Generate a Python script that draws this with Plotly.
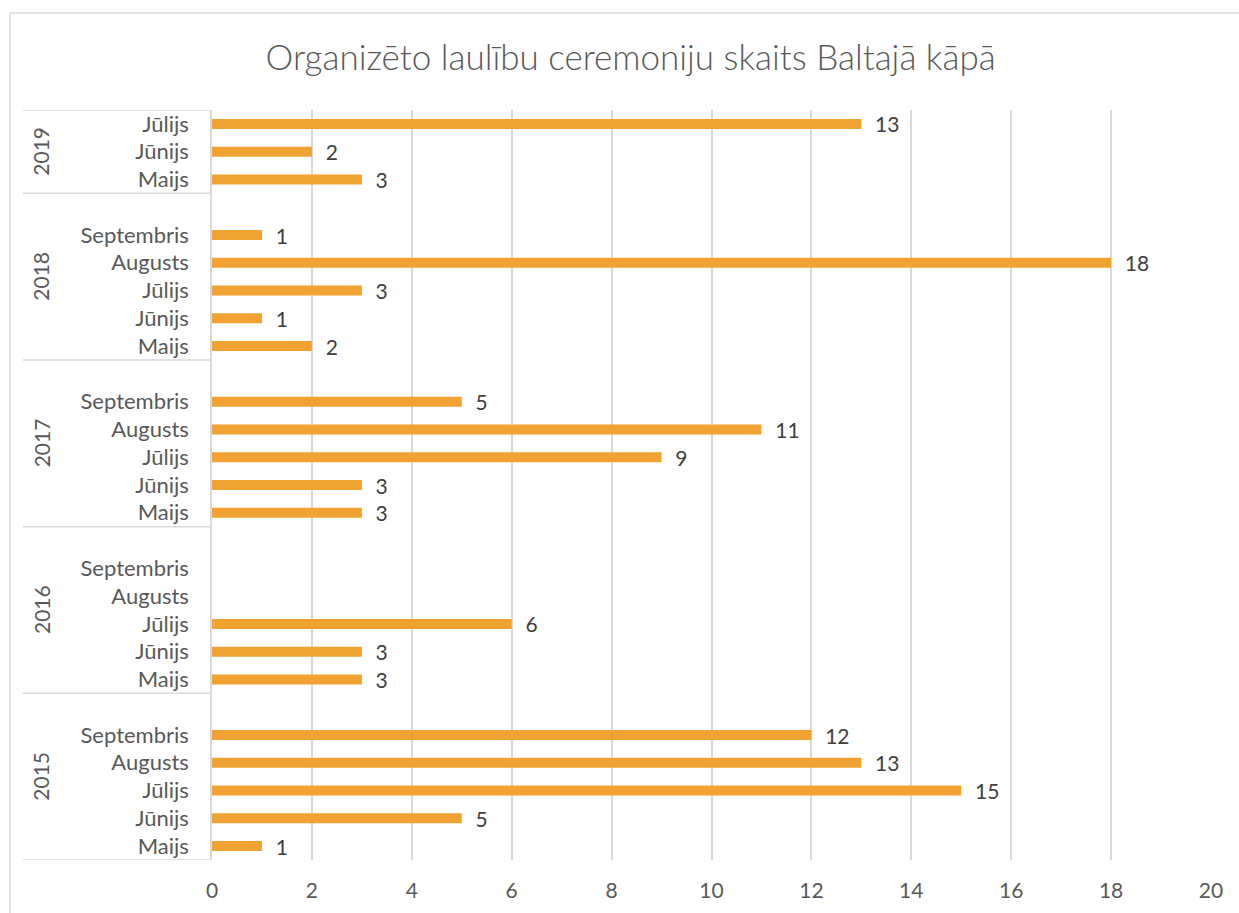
import plotly.graph_objects as go

# ---- data ----
title_text = "Organizēto laulību ceremoniju skaits Baltajā kāpā"
years = ["2015", "2016", "2017", "2018", "2019"]
months_2015 = ["Maijs", "Jūnijs", "Jūlijs", "Augusts", "Septembris", ""]
values_2015 = [1, 5, 15, 13, 12, None]
months_2016 = ["Maijs", "Jūnijs", "Jūlijs", "Augusts", "Septembris", ""]
values_2016 = [3, 3, 6, None, None, None]
months_2017 = ["Maijs", "Jūnijs", "Jūlijs", "Augusts", "Septembris", ""]
values_2017 = [3, 3, 9, 11, 5, None]
months_2018 = ["Maijs", "Jūnijs", "Jūlijs", "Augusts", "Septembris", ""]
values_2018 = [2, 1, 3, 18, 1, None]
months_2019 = ["Maijs", "Jūnijs", "Jūlijs"]
values_2019 = [3, 2, 13]
x_ticks = [0, 2, 4, 6, 8, 10, 12, 14, 16, 18, 20]

months_by_year = [months_2015, months_2016, months_2017, months_2018, months_2019]
values_by_year = [values_2015, values_2016, values_2017, values_2018, values_2019]

# ---- build categories ----
cat_ids, cat_text, vals, labels = [], [], [], []
group_bounds = []
for yr, ms, vs in zip(years, months_by_year, values_by_year):
    start = len(cat_ids)
    for i, (m, v) in enumerate(zip(ms, vs)):
        cat_ids.append(f"{yr}-{i}")
        cat_text.append(m)
        vals.append(v)
        labels.append("" if v is None else f"  {v}")
    group_bounds.append((yr, start, len(cat_ids) - 1))

FONT = "Lato"
GREY = "#595959"
LINE = "#D9D9D9"

fig = go.Figure(go.Bar(
    x=vals, y=cat_ids, orientation="h",
    marker=dict(color="#F0A232", line=dict(width=0)),
    width=0.36,
    text=labels, textposition="outside", cliponaxis=False, constraintext="none",
    textfont=dict(family=FONT, size=21, color="#404040"),
    hoverinfo="skip",
))

shapes = []
annotations = []
left_px = 23
plot_l, plot_w = 212, 999
x_left = (left_px - plot_l) / plot_w
boundaries = [-0.5] + [end + 0.5 for _, _, end in group_bounds]
for b in boundaries:
    shapes.append(dict(type="line", xref="paper", yref="y", x0=x_left, x1=0, y0=b, y1=b,
                       line=dict(color=LINE, width=1.5)))
for yr, s, e in group_bounds:
    annotations.append(dict(text=yr, xref="paper", yref="y", x=(41 - plot_l) / plot_w, y=(s + e) / 2,
                            xanchor="center", yanchor="middle",
                            textangle=-90, showarrow=False,
                            font=dict(family=FONT, size=21, color=GREY)))

# outer chart border (cropped in the reference)
top_paper = (860 - 13) / 750
left_paper = (10 - plot_l) / plot_w
shapes.append(dict(type="line", xref="paper", yref="paper", x0=left_paper, x1=1.2, y0=top_paper, y1=top_paper,
                   line=dict(color=LINE, width=1.5)))
shapes.append(dict(type="line", xref="paper", yref="paper", x0=left_paper, x1=left_paper, y0=-0.2, y1=top_paper,
                   line=dict(color=LINE, width=1.5)))

fig.update_layout(
    width=1239, height=913,
    margin=dict(l=212, r=28, t=110, b=53),
    plot_bgcolor="white", paper_bgcolor="white",
    title=dict(text=title_text, x=0.509, xanchor="center", y=0.937, yanchor="middle",
               font=dict(family=FONT, size=35, color=GREY, weight=300)),
    showlegend=False,
    shapes=shapes, annotations=annotations,
    xaxis=dict(range=[0, 20], tickvals=x_ticks, showgrid=True, gridcolor=LINE, gridwidth=1.5,
               zeroline=False, showline=False, ticks="",
               tickfont=dict(family=FONT, size=21, color=GREY), ticklabelstandoff=16),
    yaxis=dict(type="category", categoryorder="array", categoryarray=cat_ids,
               tickvals=cat_ids, ticktext=cat_text, range=[-0.5, len(cat_ids) - 0.5],
               showgrid=False, showline=True, linecolor=LINE, linewidth=1.5, ticks="",
               tickfont=dict(family=FONT, size=22, color=GREY), ticklabelstandoff=17),
)

fig.write_html("out.html", config={"displayModeBar": False},
               post_script="document.body.style.margin='0';")
